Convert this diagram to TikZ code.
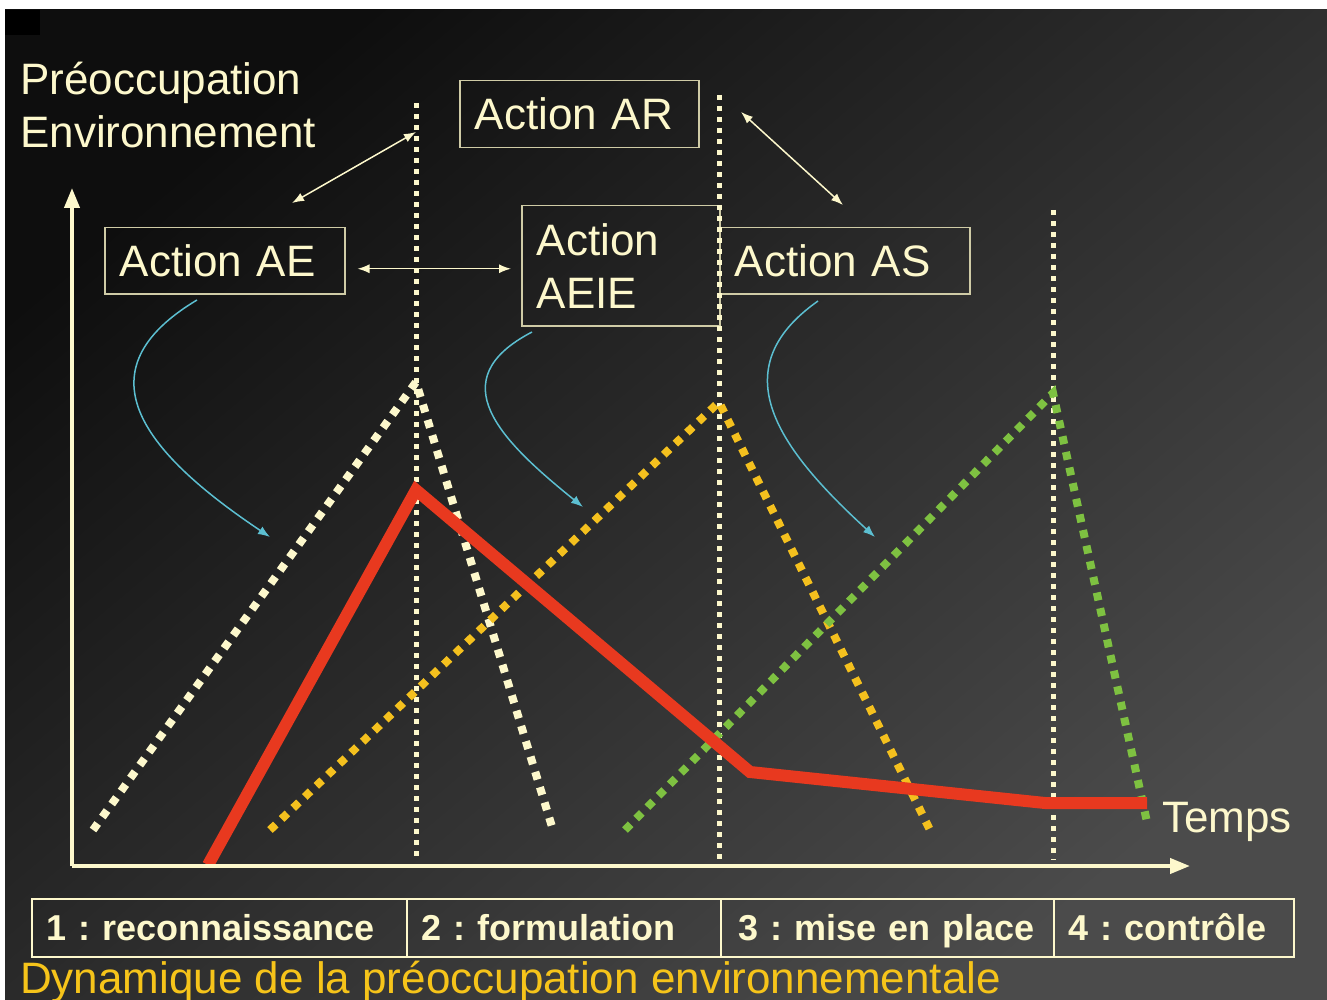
\documentclass[tikz,border=0pt]{standalone}
\usepackage{fontspec}
\setmainfont{Liberation Sans}
\usetikzlibrary{positioning, arrows.meta}
\definecolor{cream}{HTML}{FDF8CC}
\definecolor{boxline}{HTML}{CFCBA6}
\definecolor{skyline}{HTML}{5CBFD1}
\definecolor{sunline}{HTML}{F4C01E}
\definecolor{leafline}{HTML}{7EC141}
\definecolor{redline}{HTML}{E8391F}
\definecolor{titlegold}{HTML}{F6C41A}
\definecolor{bgdark}{HTML}{0E0E0E}
\definecolor{bgmid}{HTML}{353535}
\definecolor{bglight}{HTML}{4B4B4B}
\frenchspacing

\begin{document}
\begin{tikzpicture}[x=1pt, y=-1pt,
    big/.style={font=\fontsize{44}{53}\selectfont, text=cream},
    actbox/.style={big, draw=boxline, line width=1.5pt, anchor=north west, align=left, inner xsep=15pt, inner ysep=0pt},
    cell/.style={draw=cream, line width=1.5pt, anchor=north west, minimum height=58pt, inner xsep=15pt, inner ysep=0pt, text height=26pt, text depth=0pt, align=left, text=cream, font=\fontsize{36}{43}\selectfont\bfseries},
    phase/.style={cream, line width=5pt, dash pattern=on 5pt off 6pt},
    wave/.style={line width=8pt, dash pattern=on 8pt off 8pt},
    link/.style={cream, line width=1.5pt, {Latex[length=12pt,width=9pt]}-{Latex[length=12pt,width=9pt]}},
    hint/.style={skyline, line width=1.5pt, -{Latex[length=12pt,width=9pt]}}]
    \useasboundingbox (0,0) rectangle (1327,1000);
    % Background
    \fill[white] (0,0) rectangle (1327,1000);
    \shade[top color=bgdark, middle color=bgmid, bottom color=bglight, shading angle=40] (5,10) rectangle (1327,1000);
    \fill[black] (5,10) rectangle (40,35);
    % Action boxes
    \node[actbox, text width=209pt, minimum height=67pt](ar) at (459,80){Action AR};
    \node[actbox, text width=210pt, minimum height=66pt](ae) at (104,227){Action AE};
    \node[actbox, text width=168pt, minimum height=120pt](aeie) at (521,205){Action\\AEIE};
    \node[actbox, text width=220pt, minimum height=66pt](as) at (719,227){Action AS};
    % Phase limits
    \coordinate (p1top) at (416,103); \coordinate (p1bot) at (416,860);
    \coordinate (p2top) at (719,95);  \coordinate (p2bot) at (719,860);
    \coordinate (p3top) at (1053,210); \coordinate (p3bot) at (1053,860);
    \draw[phase] (p1top) -- (p1bot);
    \draw[phase] (p2top) -- (p2bot);
    \draw[phase] (p3top) -- (p3bot);
    % Action waves
    \draw[wave, cream] (93,830) -- (416,382) -- (553,830);
    \draw[wave, sunline] (270,830) -- (719,402) -- (930,830);
    \draw[wave, leafline] (625,830) -- (1053,393) -- (1147,822);
    % Concern curve
    \draw[redline, line width=12pt] (208,865) -- (416,490) -- (750,772) -- (1045,803) -- (1147,803);
    % Axes
    \coordinate (origin) at (72,866);
    \draw[cream, line width=4pt, -{Triangle[length=20pt,width=15pt]}] (origin) -- (72,188);
    \draw[cream, line width=4pt, -{Triangle[length=20pt,width=15pt]}] (origin) -- (1190,866);
    \node[big, anchor=base west, align=left, inner sep=0pt](ylabel) at (20,148){Préoccupation\\Environnement};
    \node[big, anchor=base west, inner sep=0pt](xlabel) at (1162,832){Temps};
    % Links between actions
    \coordinate (aelink) at (292,203); \coordinate (p1link) at (416,132);
    \coordinate (arlink) at (741,112); \coordinate (aslink) at (843,205);
    \draw[link] (aelink) -- (p1link);
    \draw[link] ([xshift=12pt,yshift=-8pt]ae.east) -- ([xshift=-10pt,yshift=-3pt]aeie.west);
    \draw[link] (arlink) -- (aslink);
    % Hints to waves
    \coordinate (h1) at (270,537); \coordinate (h2) at (583,507); \coordinate (h3) at (875,537);
    \draw[hint] (197,300) .. controls (80,370) and (140,450) .. (h1);
    \draw[hint] (532,332) .. controls (440,380) and (500,440) .. (h2);
    \draw[hint] (818,301) .. controls (720,370) and (780,450) .. (h3);
    % Phases
    \node[cell, text width=345pt](c1) at (31,898){1 : reconnaissance};
    \node[cell, text width=284pt](c2) at (406,898){2 : formulation};
    \node[cell, text width=297pt, inner xsep=18pt](c3) at (720,898){3 : mise en place};
    \node[cell, text width=210pt](c4) at (1053,898){4 : contrôle};
    \node[font=\fontsize{44}{53}\selectfont, text=titlegold, anchor=base west, inner sep=0pt](title) at (20,993){Dynamique de la préoccupation environnementale};
\end{tikzpicture}
\end{document}
